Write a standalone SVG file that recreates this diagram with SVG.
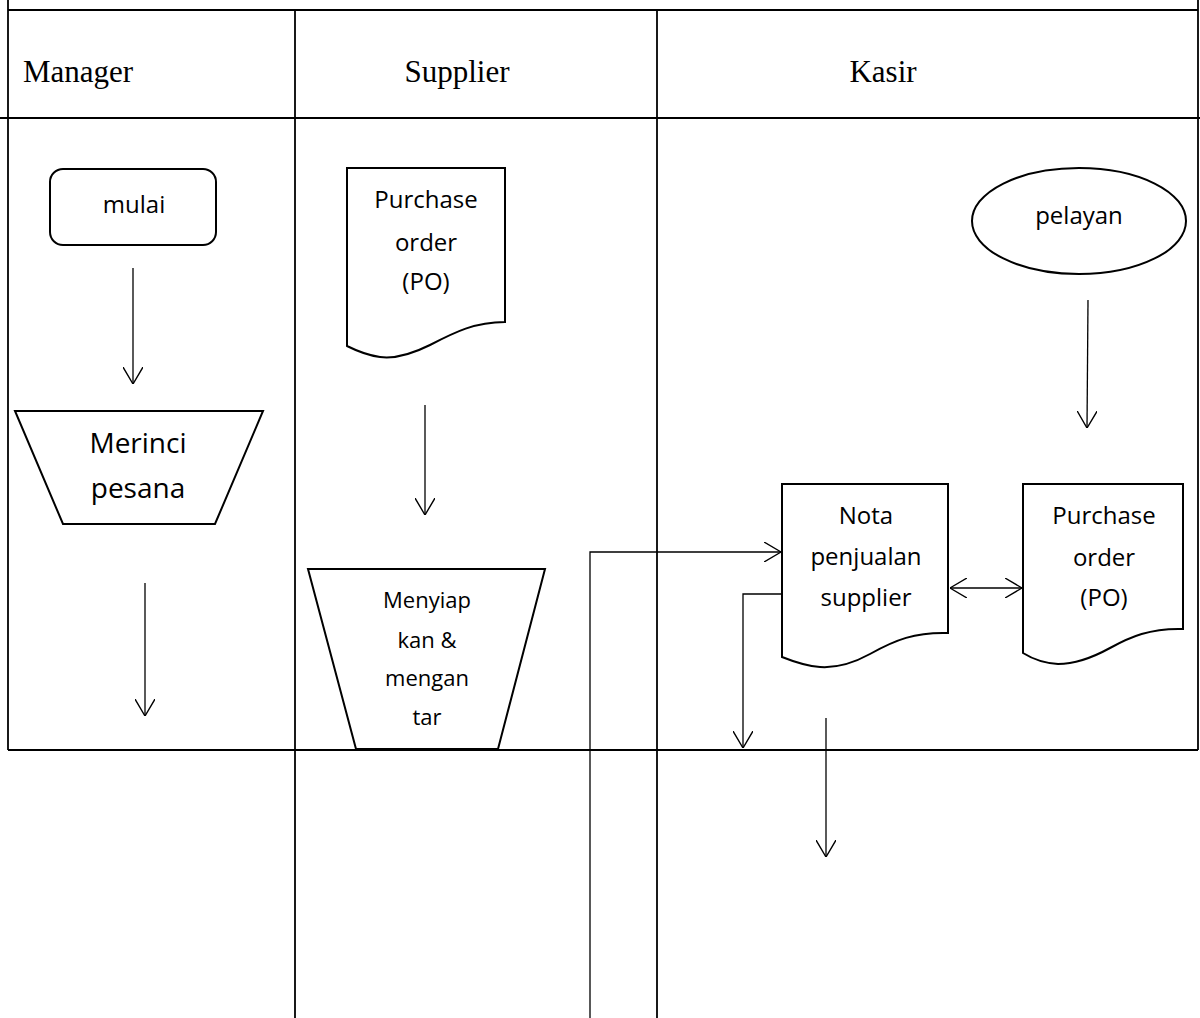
<svg xmlns="http://www.w3.org/2000/svg" width="1200" height="1018" viewBox="0 0 1200 1018">
<style>
.grid{stroke:#000;stroke-width:1.8;fill:none}
.node{stroke:#000;stroke-width:2;fill:#fff}
.conn{stroke:#000;stroke-width:1.3;fill:none}
.hdr{font-family:"Liberation Serif",serif;font-size:31px;fill:#000}
.t{font-family:"Open Sans",sans-serif;font-size:24px;fill:#000;text-anchor:middle}
.tl{font-family:"Open Sans",sans-serif;font-size:28px;fill:#000;text-anchor:middle}
.ts{font-family:"Open Sans",sans-serif;font-size:22px;fill:#000;text-anchor:middle}
</style>
<defs>
<marker id="arr" viewBox="0 0 17 20" refX="17" refY="10" markerWidth="17" markerHeight="20" markerUnits="userSpaceOnUse" orient="auto-start-reverse">
<path d="M0,0 L17,10 L0,20" fill="none" stroke="#000" stroke-width="1.4"/>
</marker>
</defs>
<rect width="1200" height="1018" fill="#fff"/>
<g id="table">
<line class="grid" x1="8" y1="0" x2="8" y2="750"/>
<line class="grid" x1="1198" y1="0" x2="1198" y2="750"/>
<line class="grid" x1="8" y1="10" x2="1198" y2="10"/>
<line class="grid" x1="0" y1="118" x2="1200" y2="118"/>
<line class="grid" x1="8" y1="750" x2="1198" y2="750"/>
<line class="grid" x1="295" y1="10" x2="295" y2="1018"/>
<line class="grid" x1="657" y1="10" x2="657" y2="1018"/>
<text class="hdr" x="23" y="82">Manager</text>
<text class="hdr" x="457" y="82" text-anchor="middle">Supplier</text>
<text class="hdr" x="883" y="82" text-anchor="middle">Kasir</text>
</g>
<g id="mulai">
<rect class="node" x="50" y="169" width="166" height="76" rx="13"/>
<text class="t" x="134" y="213">mulai</text>
</g>
<g id="merinci">
<path class="node" d="M15,411 H263 L215,524 H63 Z"/>
<text class="tl" x="138" y="453">Merinci</text>
<text class="tl" x="138" y="498">pesana</text>
</g>
<g id="po-supplier">
<path class="node" d="M347,168 H505 V322 C475,322 455,332 430,345 C410,355 395,359 380,357 C365,355 355,350 347,346 Z"/>
<text class="t" x="426" y="208">Purchase</text>
<text class="t" x="426" y="251">order</text>
<text class="t" x="426" y="290">(PO)</text>
</g>
<g id="menyiapkan">
<path class="node" d="M308,569 H545 L498,749 H356 Z"/>
<text class="ts" x="427" y="608">Menyiap</text>
<text class="ts" x="427" y="648">kan &amp;</text>
<text class="ts" x="427" y="686">mengan</text>
<text class="ts" x="427" y="725">tar</text>
</g>
<g id="pelayan">
<ellipse class="node" cx="1079" cy="221" rx="107" ry="53"/>
<text class="t" x="1079" y="224">pelayan</text>
</g>
<g id="nota">
<path class="node" d="M782,484 H948 V633 C915,632 895,640 870,654 C850,665 835,668 820,667 C805,666 792,661 782,657 Z"/>
<text class="t" x="866" y="524">Nota</text>
<text class="t" x="866" y="565">penjualan</text>
<text class="t" x="866" y="606">supplier</text>
</g>
<g id="po-kasir">
<path class="node" d="M1023,484 H1183 V629 C1150,628 1130,637 1110,648 C1090,659 1075,664 1058,664 C1042,663 1031,658 1023,653 Z"/>
<text class="t" x="1104" y="524">Purchase</text>
<text class="t" x="1104" y="566">order</text>
<text class="t" x="1104" y="606">(PO)</text>
</g>
<g id="connectors">
<line class="conn" x1="133" y1="268" x2="133" y2="384" marker-end="url(#arr)"/>
<line class="conn" x1="145" y1="583" x2="145" y2="716" marker-end="url(#arr)"/>
<line class="conn" x1="425" y1="405" x2="425" y2="515" marker-end="url(#arr)"/>
<line class="conn" x1="1088" y1="300" x2="1087" y2="428" marker-end="url(#arr)"/>
<line class="conn" x1="950" y1="588" x2="1022" y2="588" marker-start="url(#arr)" marker-end="url(#arr)"/>
<polyline class="conn" points="590,1018 590,552 781,552" marker-end="url(#arr)"/>
<polyline class="conn" points="782,594 743,594 743,748" marker-end="url(#arr)"/>
<line class="conn" x1="826" y1="718" x2="826" y2="857" marker-end="url(#arr)"/>
</g>
</svg>
